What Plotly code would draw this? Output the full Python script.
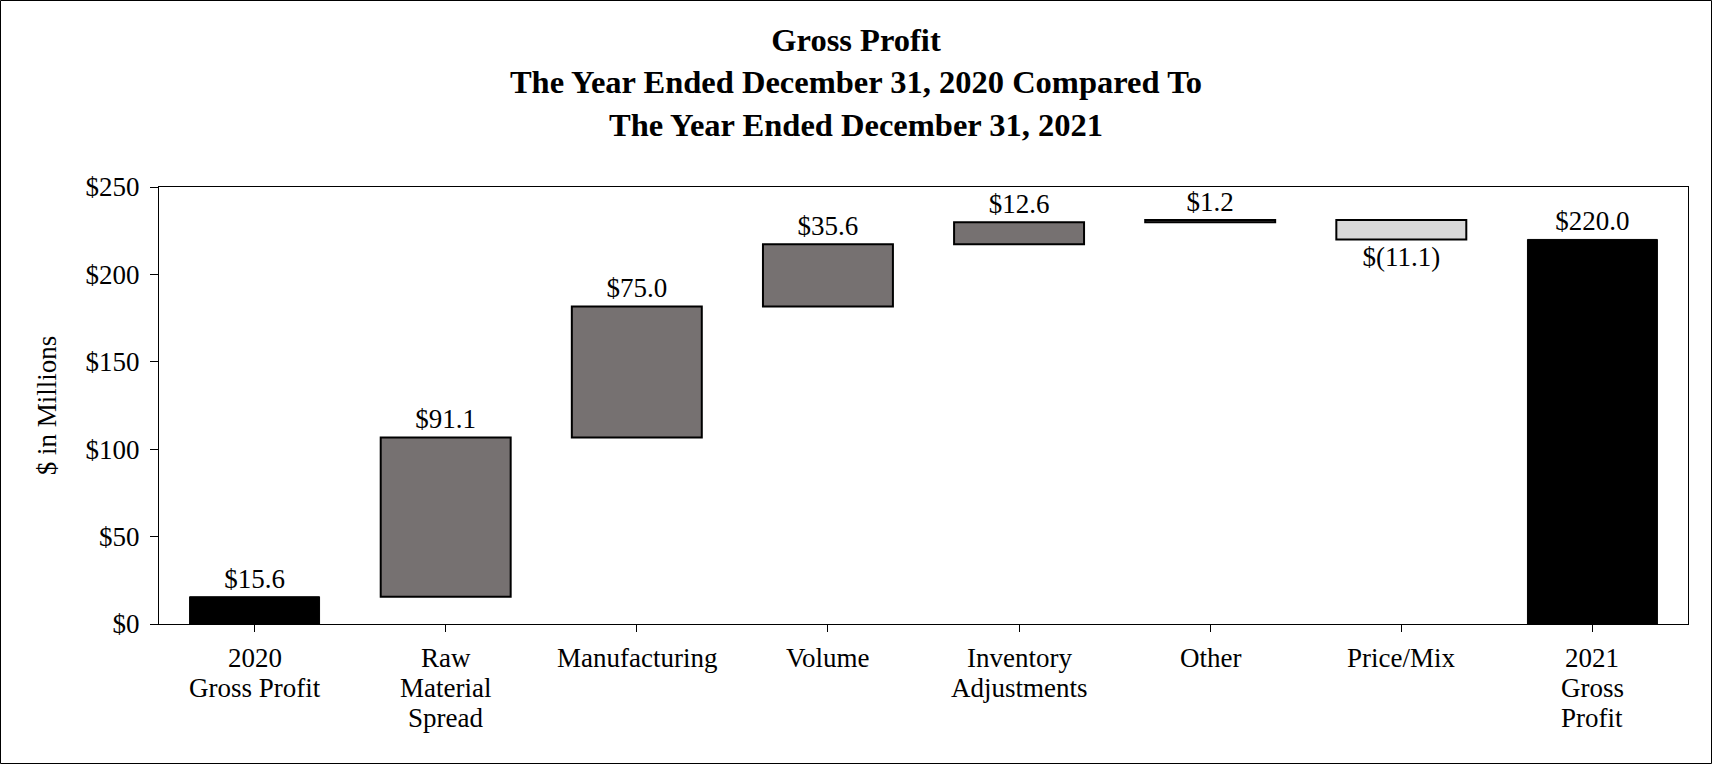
import plotly.graph_objects as go

categories = ["2020<br>Gross Profit", "Raw<br>Material<br>Spread", "Manufacturing", "Volume",
              "Inventory<br>Adjustments", "Other", "Price/Mix", "2021<br>Gross<br>Profit"]
measures = ["absolute", "relative", "relative", "relative", "relative", "relative", "relative", "total"]
values = [15.6, 91.1, 75.0, 35.6, 12.6, 1.2, -11.1, 220.0]
y_ticks = [0, 50, 100, 150, 200, 250]
y_tick_labels = ["$0", "$50", "$100", "$150", "$200", "$250"]


def fmt(v):
    return f"${v:.1f}" if v >= 0 else f"$({abs(v):.1f})"


labels = [fmt(v) for v in values]

FONT = "Times New Roman, Liberation Serif, serif"
FS = 27
W, H = 1712, 764
L, R, T, B = 159, 24, 187, 140
pw, ph = W - L - R, H - T - B

fig = go.Figure(go.Waterfall(
    x=categories,
    y=values,
    measure=measures,
    text=labels,
    textposition="outside",
    textfont=dict(family=FONT, size=FS, color="black"),
    cliponaxis=False,
    constraintext="none",
    connector=dict(visible=False),
    increasing=dict(marker=dict(color="#767171", line=dict(color="black", width=2))),
    decreasing=dict(marker=dict(color="#d9d9d9", line=dict(color="black", width=2))),
    totals=dict(marker=dict(color="black", line=dict(color="black", width=1))),
    width=0.68,
    hoverinfo="skip",
))

fig.update_layout(
    width=W, height=H,
    margin=dict(l=L, r=R, t=T, b=B, pad=0),
    paper_bgcolor="white", plot_bgcolor="white",
    showlegend=False,
    font=dict(family=FONT, size=FS, color="black"),
    title=dict(
        text="<b>Gross Profit<br>The Year Ended December 31, 2020 Compared To<br>The Year Ended December 31, 2021</b>",
        font=dict(family=FONT, size=32.5, color="black"),
        x=0.5, xref="container", xanchor="center",
        y=1 - 51 / H, yref="container", yanchor="middle",
    ),
    xaxis=dict(
        showline=True, linecolor="black", linewidth=1, mirror=True,
        ticks="outside", ticklen=7, tickcolor="black", tickwidth=1,
        showticklabels=False,
        showgrid=False,
    ),
    yaxis=dict(
        range=[0, 250], tickvals=y_ticks, ticktext=y_tick_labels,
        showline=True, linecolor="black", linewidth=1, mirror=True,
        ticks="outside", ticklen=8, tickcolor="black", tickwidth=1,
        tickfont=dict(family=FONT, size=FS, color="black"),
        ticklabelstandoff=5,
        showgrid=False, zeroline=False,
        title=dict(text="$ in Millions", font=dict(family=FONT, size=FS, color="black"), standoff=21),
    ),
)

# category labels with tighter line spacing
for cat in categories:
    for i, line in enumerate(cat.split("<br>")):
        fig.add_annotation(
            x=cat, y=0, xref="x", yref="paper",
            text=line, showarrow=False,
            xanchor="center", yanchor="middle",
            yshift=-(34 + 30 * i),
            font=dict(family=FONT, size=FS, color="black"),
        )

# outer frame around the whole image
fig.add_shape(
    type="rect", xref="paper", yref="paper",
    x0=(0.5 - L) / pw, x1=(W - 0.5 - L) / pw,
    y0=-(B - 0.5) / ph, y1=(ph + T - 0.5) / ph,
    line=dict(color="black", width=1), fillcolor="rgba(0,0,0,0)", layer="above",
)

fig.write_html("out.html", config={"displayModeBar": False},
               post_script="document.body.style.margin='0px';")
